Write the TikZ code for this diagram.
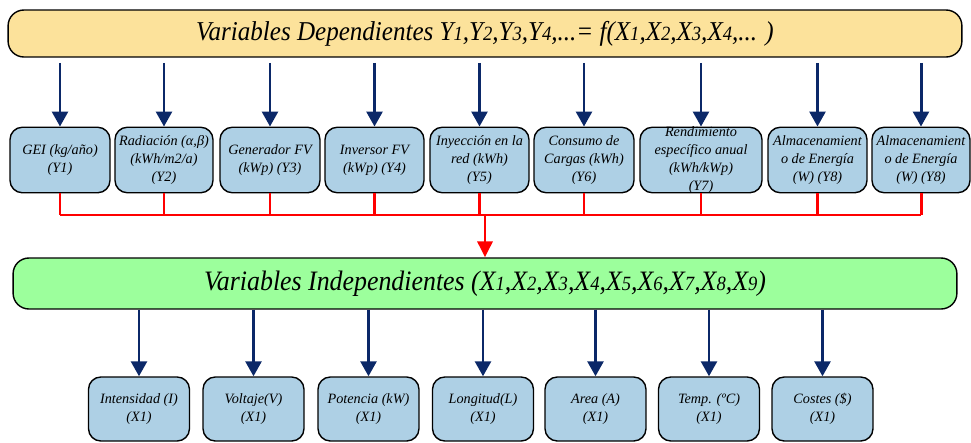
\documentclass[tikz,border=0pt]{standalone}
\usepackage{fontspec}
\setmainfont{Liberation Serif}
\newfontfamily\headfont[FakeStretch=0.92]{Liberation Serif}
\usetikzlibrary{arrows.meta}
\definecolor{depfill}{HTML}{FCE29B}
\definecolor{indfill}{HTML}{9CFF9C}
\definecolor{varfill}{HTML}{AED0E5}
\definecolor{navy}{HTML}{0B2868}
\newcommand{\ix}[1]{{\fontsize{11.5}{11}\selectfont #1}}

\begin{document}
\begin{tikzpicture}[x=0.02cm,y=-0.02cm,
  bigbox/.style={draw, line width=0.8pt, rounded corners=9pt, inner sep=0pt},
  varbox/.style={draw, line width=0.8pt, rounded corners=7pt, fill=varfill,
    minimum height=1.31cm, inner sep=0pt},
  vartext/.style={font=\itshape\fontsize{8.1}{10.2}\selectfont, align=center, inner sep=0pt},
  down/.style={navy, line width=1.7pt, -{Triangle[length=8.5pt,width=9pt]}},
  bus/.style={red, line width=1.7pt}]
\useasboundingbox (0,0) rectangle (971,443);

\node[bigbox, fill=depfill, minimum width=19.08cm, minimum height=0.94cm,
  font=\headfont\itshape\fontsize{15.5}{18}\selectfont] (dep) at (485,33.5)
  {Variables Dependientes Y\ix{1},Y\ix{2},Y\ix{3},Y\ix{4},...= \textit{f}(X\ix{1},X\ix{2},X\ix{3},X\ix{4},... )};
\node[bigbox, fill=indfill, minimum width=18.88cm, minimum height=1.02cm,
  font=\headfont\itshape\fontsize{16}{18}\selectfont] (ind) at (485,283.5)
  {Variables Independientes (X\ix{1},X\ix{2},X\ix{3},X\ix{4},X\ix{5},X\ix{6},X\ix{7},X\ix{8},X\ix{9})};

\foreach \n/\x/\w/\t in {
  1/60/2.0/{GEI (kg/año)\\(Y1)},
  2/164/1.96/{Radiación (α,β)\\(kWh/m2/a)\\(Y2)},
  3/270/2.0/{Generador FV\\(kWp) (Y3)},
  4/374.5/1.98/{Inversor FV\\(kWp) (Y4)},
  5/479.5/1.98/{Inyección en la\\red (kWh)\\(Y5)},
  6/584/2.0/{Consumo de\\Cargas (kWh)\\(Y6)},
  7/701/2.44/{Rendimiento\\específico anual\\(kWh/kWp)\\(Y7)},
  8/817.5/1.98/{Almacenamient\\o de Energía\\(W) (Y8)},
  9/921/1.96/{Almacenamient\\o de Energía\\(W) (Y8)}} {
  \node[varbox, minimum width=\w cm] (y\n) at (\x,160) {};
  \node[vartext] at (y\n.center) {\t};
  \draw[down, shorten <=3pt] (dep.south -| y\n.north) -- (y\n.north);
}

\coordinate (join) at (485,215);
\foreach \n in {1,...,9}
  \draw[bus] (y\n.south) -- (y\n.south |- join);
\draw[bus] (y1.south |- join) -- (y9.south |- join);
\draw[bus, -{Triangle[length=9pt,width=8.5pt]}] (join) -- (join |- ind.north);

\foreach \n/\x/\t in {
  1/139/{Intensidad (I)\\(X1)},
  2/253.5/{Voltaje(V)\\(X1)},
  3/368.5/{Potencia (kW)\\(X1)},
  4/483/{Longitud(L)\\(X1)},
  5/595.5/{Area (A)\\(X1)},
  6/709/{Temp. (ºC)\\(X1)},
  7/822.5/{Costes (\$)\\(X1)}} {
  \node[varbox, minimum width=2.02cm, minimum height=1.28cm] (x\n) at (\x,409) {};
  \node[vartext] at (x\n.center) {\t};
  \draw[down] (ind.south -| x\n.north) -- (x\n.north);
}
\end{tikzpicture}
\end{document}
